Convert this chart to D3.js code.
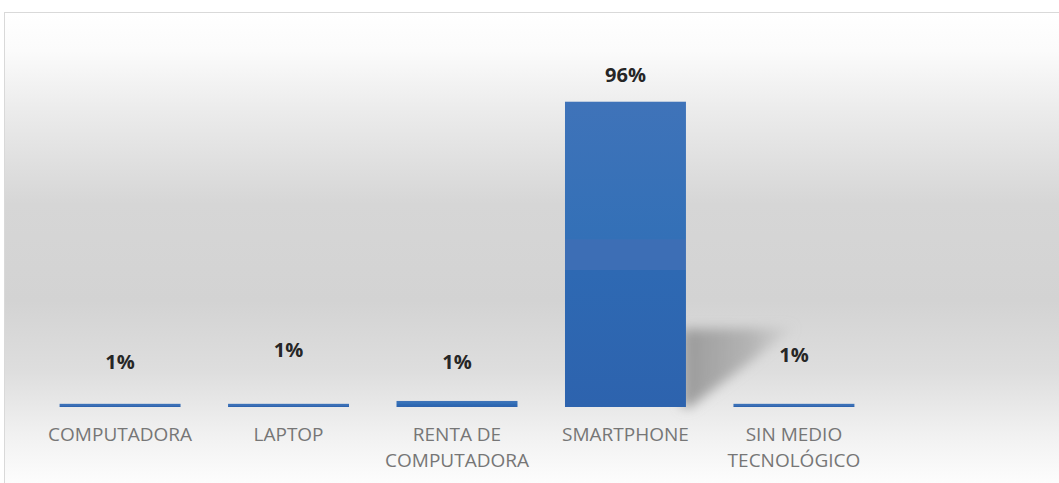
<!DOCTYPE html>
<html>
<head>
<meta charset="utf-8">
<script src="https://cdn.jsdelivr.net/npm/d3@7"></script>
<style>
  html, body { margin: 0; padding: 0; background: #ffffff; }
  svg { display: block; }
</style>
</head>
<body>
<svg id="chart" width="1059" height="483"></svg>
<script>
var categories = ['COMPUTADORA', 'LAPTOP', 'RENTA DE COMPUTADORA', 'SMARTPHONE', 'SIN MEDIO TECNOLÓGICO'];
var values = [1, 1, 1.9, 96, 1];
var valueLabels = ['1%', '1%', '1%', '96%', '1%'];
var tickLines = [['COMPUTADORA'], ['LAPTOP'], ['RENTA DE', 'COMPUTADORA'], ['SMARTPHONE'], ['SIN MEDIO', 'TECNOLÓGICO']];

// label lift above each bar top (px), as in the original layout
var labelLift = [35, 47, 32, 20, 42];

var svg = d3.select('#chart');
var defs = svg.append('defs');

var bg = defs.append('linearGradient')
    .attr('id', 'bg').attr('x1', 0).attr('y1', 0).attr('x2', 0).attr('y2', 1);
[[0, '#ffffff'], [0.08, '#fbfbfb'], [0.2, '#ececec'], [0.4, '#d6d6d6'], [0.6, '#d3d3d3'],
 [0.75, '#dedede'], [0.88, '#f1f1f1'], [1, '#ffffff']].forEach(function (s) {
    bg.append('stop').attr('offset', s[0]).attr('stop-color', s[1]);
});

var barGrad = defs.append('linearGradient')
    .attr('id', 'barGrad').attr('x1', 0).attr('y1', 0).attr('x2', 0).attr('y2', 1);
[[0, '#3f73b9'], [0.45, '#3370b7'], [0.452, '#3d6eb5'], [0.55, '#3d6eb5'], [0.552, '#2e69b3'], [1, '#2d63ae']].forEach(function (s) {
    barGrad.append('stop').attr('offset', s[0]).attr('stop-color', s[1]);
});

var blur = defs.append('filter').attr('id', 'blur')
    .attr('x', '-40%').attr('y', '-40%').attr('width', '180%').attr('height', '180%');
blur.append('feGaussianBlur').attr('stdDeviation', 6);

var shadowGrad = defs.append('linearGradient')
    .attr('id', 'shadowGrad').attr('x1', 0).attr('y1', 0).attr('x2', 1).attr('y2', 0);
shadowGrad.append('stop').attr('offset', 0).attr('stop-color', '#969696').attr('stop-opacity', 0.95);
shadowGrad.append('stop').attr('offset', 0.6).attr('stop-color', '#a3a3a3').attr('stop-opacity', 0.7);
shadowGrad.append('stop').attr('offset', 1).attr('stop-color', '#b5b5b5').attr('stop-opacity', 0.15);

// chart area background + border
svg.append('rect')
    .attr('x', 4.5).attr('y', 12.5)
    .attr('width', 1060).attr('height', 480)
    .attr('fill', 'url(#bg)')
    .attr('stroke', '#d9d9d9');

var xScale = d3.scaleBand()
    .domain(categories)
    .range([36, 878])
    .paddingInner(0.282)
    .paddingOuter(0.14);

var yScale = d3.scaleLinear()
    .domain([0, 100])
    .range([407, 89]);

// perspective shadow behind the tallest bar
var maxI = d3.maxIndex(values);
var sx = xScale(categories[maxI]) + xScale.bandwidth();
svg.append('path')
    .attr('d', d3.line()([
        [sx - 4, yScale(24.5)],
        [sx + xScale.bandwidth() * 0.9, yScale(25)],
        [sx + 4, yScale(0)],
        [sx - 4, yScale(0)]
    ]) + 'Z')
    .attr('fill', 'url(#shadowGrad)')
    .attr('filter', 'url(#blur)');

var g = svg.append('g');

g.selectAll('rect.bar')
    .data(values)
    .enter().append('rect')
    .attr('class', 'bar')
    .attr('x', function (d, i) { return xScale(categories[i]); })
    .attr('y', function (d) { return yScale(d); })
    .attr('width', xScale.bandwidth())
    .attr('height', function (d) { return yScale(0) - yScale(d); })
    .attr('fill', 'url(#barGrad)');

g.selectAll('text.val')
    .data(values)
    .enter().append('text')
    .attr('class', 'val')
    .attr('x', function (d, i) { return xScale(categories[i]) + xScale.bandwidth() / 2; })
    .attr('y', function (d, i) { return yScale(d) - labelLift[i]; })
    .attr('text-anchor', 'middle')
    .attr('font-family', '"Open Sans", sans-serif')
    .attr('font-weight', 'bold')
    .attr('font-size', '20px')
    .attr('fill', '#262626')
    .text(function (d, i) { return valueLabels[i]; });

var xAxis = g.append('g')
    .attr('transform', 'translate(0,' + yScale(0) + ')')
    .call(d3.axisBottom(xScale).tickSize(0).tickPadding(0).tickFormat(''));
xAxis.select('.domain').remove();

xAxis.selectAll('.tick text')
    .attr('y', 34)
    .attr('dy', null)
    .attr('font-family', '"Open Sans", sans-serif')
    .attr('font-size', '19px')
    .attr('fill', '#767676')
    .each(function (d, i) {
        var t = d3.select(this);
        tickLines[i].forEach(function (line, k) {
            t.append('tspan')
                .attr('x', 0)
                .attr('y', 34 + k * 26)
                .text(line);
        });
    });
</script>
</body>
</html>
